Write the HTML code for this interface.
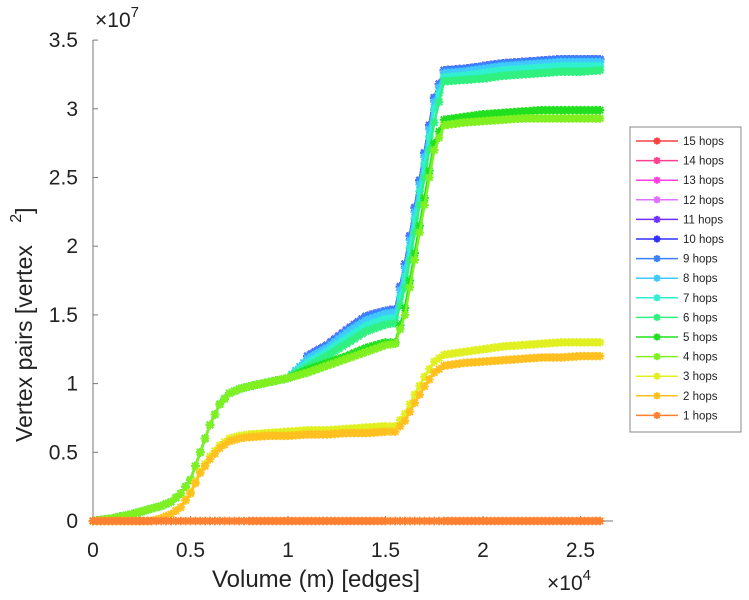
<!DOCTYPE html>
<html><head><meta charset="utf-8"><style>
html,body{margin:0;padding:0;background:#fff;}
svg{display:block;font-family:"Liberation Sans",sans-serif;}
</style></head><body>
<svg id="chart" width="749" height="600">
<g id="axes"></g>
<g id="series"></g>
<g id="legend"></g>
</svg>
<script>
const xVals=[0,1,2,3,3.5,4,4.5,5,5.5,6,6.5,7,7.5,8,9,10,11,12,13,14,15,15.5,16,16.5,17,17.5,18,19,20,21,22,23,24,25,26];
const early=[0,0.2,0.5,0.9,1.1,1.4,2,3,5,7,8.5,9.3,9.6,9.8,10.1,10.4];
const hops1=xVals.map(()=>0);
const hops2=[0,0,0,0,0.2,0.5,1,2,3.5,4.5,5.3,5.8,6,6.1,6.2,6.2,6.3,6.3,6.4,6.4,6.5,6.5,7.3,8.6,9.8,10.8,11.3,11.5,11.6,11.7,11.8,11.9,11.9,12,12];
const hops3=[0,0,0,0,0.2,0.5,1,2.1,3.6,4.7,5.5,6,6.2,6.3,6.4,6.5,6.6,6.6,6.7,6.8,6.9,6.9,7.8,9.2,10.5,11.6,12.1,12.3,12.5,12.7,12.8,12.9,13,13,13];
const hops4=early.concat([10.8,11.3,11.8,12.3,12.8,12.9,15,19,23,27,28.8,29,29.1,29.2,29.3,29.3,29.3,29.3,29.3]);
const hops5=early.concat([11,11.5,12,12.6,13,13,15.5,19.5,23.5,27.5,29.2,29.4,29.6,29.7,29.8,29.9,29.9,29.9,29.9]);
const hops6=early.concat([11.2,12,12.9,13.8,14.3,14.4,17,21,25,29,32,32.1,32.2,32.4,32.5,32.6,32.7,32.7,32.8]);
const hops7=early.concat([11.5,12.3,13.3,14.2,14.7,14.8,17.8,22,26,30,32.3,32.4,32.6,32.8,32.9,33,33.1,33.1,33.1]);
const hops8=early.concat([11.8,12.6,13.7,14.6,15.1,15.2,18.4,22.5,26.5,30.5,32.6,32.7,32.9,33.1,33.2,33.3,33.4,33.4,33.4]);
const lateOnly=[null,null,null,null,null,null,null,null,null,null,null,null,null,null,null,null,12,12.8,13.9,14.9,15.3,15.4,18.7,22.8,26.8,30.8,32.8,32.9,33.1,33.3,33.4,33.5,33.6,33.6,33.6];
const hops9=lateOnly.slice(),hops10=lateOnly.slice(),hops11=lateOnly.slice(),hops12=lateOnly.slice(),hops13=lateOnly.slice(),hops14=lateOnly.slice(),hops15=lateOnly.slice();
const seriesNames=["15 hops","14 hops","13 hops","12 hops","11 hops","10 hops","9 hops","8 hops","7 hops","6 hops","5 hops","4 hops","3 hops","2 hops","1 hops"];
const seriesData=[hops15,hops14,hops13,hops12,hops11,hops10,hops9,hops8,hops7,hops6,hops5,hops4,hops3,hops2,hops1];
const seriesColors=["#ff4040","#ff4090","#ff40e0","#e070ff","#7030ff","#3030ff","#3a80ff","#40c8ff","#30f0d0","#30f080","#20e020","#80f020","#e0f020","#ffc020","#ff8030"];
const xTicks=[0,0.5,1,1.5,2,2.5];
const yTicks=[0,0.5,1,1.5,2,2.5,3,3.5];

const NS="http://www.w3.org/2000/svg";
const X0=93,Y0=521,XR=613,YT=40;
const sx=v=>X0+v*19.5;
const sy=v=>Y0-v/10*137.4;
function mk(tag,attrs,parent){const e=document.createElementNS(NS,tag);for(const k in attrs)e.setAttribute(k,attrs[k]);parent.appendChild(e);return e;}
const axes=document.getElementById('axes');
let l=mk('line',{x1:X0,y1:YT,x2:X0,y2:Y0,stroke:'#777','stroke-width':1},axes);


l=mk('line',{x1:X0,y1:Y0,x2:XR,y2:Y0,stroke:'#777','stroke-width':1},axes);


yTicks.forEach(t=>{const y=sy(t*10);
 mk('line',{x1:X0,y1:y,x2:X0+5,y2:y,stroke:'#777'},axes);
 const tx=mk('text',{x:78,y:y+7,'text-anchor':'end','font-size':21,fill:'#222'},axes);tx.textContent=String(t);
 
 });
xTicks.forEach(t=>{const x=sx(t*10);
 mk('line',{x1:x,y1:Y0,x2:x,y2:Y0-5,stroke:'#777'},axes);
 const tx=mk('text',{x:x,y:557,'text-anchor':'middle','font-size':21,fill:'#222'},axes);tx.textContent=String(t);
 
 });
let t=mk('text',{x:95,y:27,'font-size':21,fill:'#222'},axes);t.innerHTML='×10<tspan dy="-10" font-size="15">7</tspan>';


t=mk('text',{x:547,y:590,'font-size':21,fill:'#222'},axes);t.innerHTML='×10<tspan dy="-10" font-size="15">4</tspan>';


t=mk('text',{x:316,y:587,'text-anchor':'middle','font-size':24,fill:'#222'},axes);t.textContent='Volume (m) [edges]';


t=mk('text',{x:0,y:0,'font-size':23,fill:'#222',transform:'translate(32,442) rotate(-90)'},axes);t.innerHTML='Vertex pairs [vertex <tspan dx="16" dy="-11" font-size="16">2</tspan><tspan dy="11">]</tspan>';



const sg=document.getElementById('series');
function star(g,x,y,c,s){s=s||4.3;
 mk('path',{d:`M${x-s},${y}h${2*s}M${x},${y-s}v${2*s}M${x-s*0.75},${y-s*0.75}l${1.5*s},${1.5*s}M${x-s*0.75},${y+s*0.75}l${1.5*s},${-1.5*s}`,stroke:c,'stroke-width':2,fill:'none'},g);}
seriesData.forEach((arr,i)=>{
 const g=mk('g',{},sg);
 
 
 let d='';let pen=false;
 arr.forEach((v,j)=>{if(v===null){pen=false;return;}d+=(pen?'L':'M')+sx(xVals[j])+','+sy(v);pen=true;});
 mk('path',{d:d,stroke:seriesColors[i],'stroke-width':2.5,fill:'none'},g);
 arr.forEach((v,j)=>{if(v===null)return;
  const x0=sx(xVals[j]);star(g,x0,sy(v),seriesColors[i]);
  if(j<arr.length-1&&arr[j+1]!==null){const x1=sx(xVals[j+1]),y1=sy(arr[j+1]);const n=Math.floor((x1-x0)/3.5);
   for(let k=1;k<n;k++){const f=k/n;star(g,x0+(x1-x0)*f,sy(v)+(y1-sy(v))*f,seriesColors[i]);}}
 });
});
const lg=document.getElementById('legend');
let r=mk('rect',{x:630,y:127,width:111,height:305,fill:'#fff',stroke:'#888'},lg);


seriesNames.forEach((n,i)=>{const y=141+i*19.6;
 const g=mk('g',{},lg);
 
 
 mk('line',{x1:636,y1:y,x2:678,y2:y,stroke:seriesColors[i],'stroke-width':1.5},g);
 star(g,657,y,seriesColors[i],3.5);
 const tx=mk('text',{x:683,y:y+4,'font-size':11.5,fill:'#222'},g);tx.textContent=n;});
</script>
</body></html>
